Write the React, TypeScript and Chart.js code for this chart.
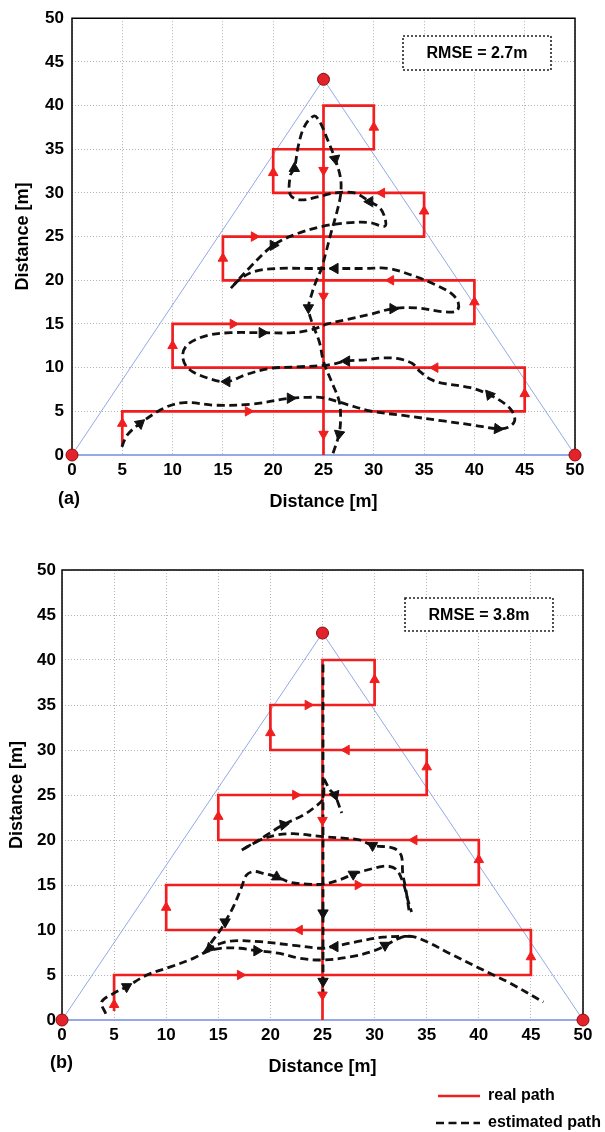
import React, { useEffect, useRef } from 'react';
import { Chart, registerables } from 'chart.js';

Chart.register(...registerables);

// ---------- data ----------
const AXIS_MIN = 0;
const AXIS_MAX = 50;
const TICK_STEP = 5;

const anchorX = [0, 25, 50];
const anchorY = [0, 43, 0];
const boundaryX = [0, 25, 50, 0];
const boundaryY = [0, 43, 0, 0];

const realPathX = [5, 5, 45, 45, 10, 10, 40, 40, 15, 15, 35, 35, 20, 20, 30, 30, 25, 25];
const realPathY = [1, 5, 5, 10, 10, 15, 15, 20, 20, 25, 25, 30, 30, 35, 35, 40, 40, 0];

// [x, y, direction in degrees clockwise from up]
const realArrowsA = [
  [5, 3.6, 0], [17.5, 5, 90], [45, 7, 0], [36.1, 10, 270], [10, 12.5, 0], [16, 15, 90],
  [40, 17.5, 0], [31.7, 20, 270], [15, 22.5, 0], [18.1, 25, 90], [35, 27.9, 0], [30.8, 30, 270],
  [20, 32.3, 0], [30, 37.5, 0], [25, 32.6, 180], [25, 18.2, 180], [25, 2.4, 180],
];
const realArrowsB = [
  [5, 1.7, 0], [17.1, 5, 90], [45, 7, 0], [22.8, 10, 270], [10, 12.5, 0], [28.4, 15, 90],
  [40, 17.8, 0], [33.8, 20, 270], [15, 22.6, 0], [22.4, 25, 90], [35, 28.1, 0], [27.3, 30, 270],
  [20, 31.9, 0], [23.6, 35, 90], [30, 37.8, 0], [25, 22.2, 180], [25, 2.8, 180],
];

// estimated path (a)
const estA1 = [
  [4.95, 0.93], [5.5, 2.3], [6.76, 3.6], [9.2, 5.4], [11.2, 6.0], [14.25, 5.7], [17.7, 5.8],
  [21.7, 6.5], [23.5, 6.6], [25, 6.55], [27.3, 5.8], [29.6, 5.05], [33.1, 4.5], [36.9, 3.9],
  [40, 3.4], [42.3, 3.0], [43.4, 3.2], [44, 3.9], [43.8, 4.9], [43.1, 5.8], [41.5, 6.9],
  [39.6, 7.7], [36.9, 8.2], [35.75, 8.6], [34.6, 9.55], [33.8, 10.5], [32.3, 11.05],
  [30.8, 11.1], [29.2, 10.9], [27.3, 10.75], [25.4, 10.3], [22.7, 10.1], [19.6, 9.9],
  [17.3, 9.2], [15.4, 8.4], [13.5, 8.8], [11.55, 9.9], [11, 11.4], [11.55, 12.7], [13.5, 13.7],
  [15.8, 14.0], [18.9, 14.0], [21.9, 14.0], [23.85, 14.35], [25.4, 15.0], [27.3, 15.5],
  [29.6, 16.1], [31.9, 16.75], [34.2, 16.85], [36.9, 16.4], [38.25, 16.5], [38.4, 17.4],
  [37.7, 18.5], [36.1, 19.5], [34.2, 20.4], [31.5, 21.35], [29.2, 21.35], [26.15, 21.35],
  [23.5, 21.35], [20.4, 21.35], [18.1, 21.0], [16.55, 20.0], [15.8, 19.1],
];
const estA2 = [
  [15.8, 19.1], [17.7, 21.5], [20, 24.0], [22.3, 25.3], [25, 26.2], [27.7, 26.6], [29.6, 26.6],
  [31.1, 26.2], [31.1, 27.15], [30.6, 28.3], [29.6, 29.0], [28.1, 30.0], [26.15, 30.0],
  [24.6, 29.6], [22.7, 29.2], [21.7, 29.8], [21.7, 32.0], [22.1, 32.8], [22.5, 35.4],
  [23.1, 37.6], [24.05, 38.8], [24.6, 38.2], [25.4, 36.1], [26.15, 33.9], [26.7, 31.65],
  [26.7, 29.8], [26.35, 27.9], [25.8, 25.65], [25.2, 23.0], [24.8, 21.35], [24.2, 19.7],
  [23.85, 18.5], [23.5, 16.85], [23.85, 15.2], [24.6, 12.9], [25, 10.7], [25.8, 8.4],
  [26.55, 6.2], [26.7, 4.3], [26.55, 2.4], [25.95, 0.2],
];
const estArrowsA = [
  [6.76, 3.6, 50], [21.7, 6.5, 90], [42.3, 3.0, 95], [41.5, 6.9, 200], [27.3, 10.75, 270],
  [15.4, 8.4, 270], [18.9, 14.0, 90], [31.9, 16.75, 90], [26.15, 21.35, 270], [20, 24.0, 210],
  [29.6, 29.0, 150], [22.1, 32.8, 0], [26.15, 33.9, 170], [23.5, 16.85, 180], [26.55, 2.4, 190],
];

// estimated path (b)
const estB1 = [
  [4.2, 0.7], [3.8, 2.0], [4.95, 2.96], [6.2, 3.7], [8.15, 5.0], [10.4, 5.9], [12.6, 6.85],
  [13.9, 7.6], [15.2, 7.97], [17.1, 7.97], [18.7, 7.7], [20.9, 7.4], [22.85, 6.85], [24.9, 6.67],
  [27.6, 7.0], [30.2, 7.8], [32.4, 9.1], [33.55, 9.3], [35, 8.7], [37.2, 7.4], [39.8, 5.9],
  [41.4, 5.0], [43, 4.1], [46.2, 2.0],
];
const estB2 = [
  [33.55, 9.3], [30.8, 9.2], [28.3, 8.7], [26.0, 8.15], [24.9, 7.97], [22.2, 8.3], [19, 8.7],
  [16.45, 8.8], [15.2, 8.5], [14.2, 7.97], [13.6, 7.4],
];
const estB3 = [
  [13.6, 7.4], [14.5, 8.9], [15.2, 10], [15.65, 10.9], [16.45, 12.6], [17.25, 14.8], [17.7, 16.1],
  [18.4, 16.5], [19.3, 16.3], [20.6, 15.9], [21.9, 15.3], [23.5, 15.1], [25.1, 15.1], [26.7, 15.6],
  [27.95, 16.2], [29.9, 16.85], [31.2, 17.1], [32.1, 16.7], [32.75, 15.2], [33.2, 13.3], [33.55, 12.0],
];
const estB4 = [
  [33.3, 12.2], [33.0, 14.5], [32.7, 16.3], [32.55, 18.3], [31.8, 19.1], [29.8, 19.4], [28.6, 20.0],
  [27.0, 20.2], [24.8, 20.4], [22.2, 20.7], [20.6, 20.55], [19, 20], [17.25, 18.9],
];
const estB5 = [
  [17.25, 18.9], [18.5, 19.7], [19.65, 20.55], [21.25, 21.7], [23.2, 22.8], [24.3, 23.7],
  [25.05, 24.6], [25.1, 26.7],
];
const estB6 = [[25.05, 39.5], [25.05, 2.2]];
const estB7 = [[25.15, 26.8], [25.7, 25.6], [26.2, 25.0], [26.5, 24.1], [26.85, 23.0]];
const estArrowsB = [
  [6.2, 3.7, 60], [18.7, 7.7, 90], [31, 8.3, 180], [26.2, 8.15, 270], [14.2, 8.0, 225],
  [15.65, 10.9, 300], [20.6, 15.9, 0], [27.95, 16.2, 180], [29.8, 19.4, 180], [21.25, 21.7, 200],
  [26.2, 25.0, 160], [25.05, 11.9, 180], [25.05, 4.3, 180],
];

const panelTags = ['(a)', '(b)'];
const rmseLabels = ['RMSE = 2.7m', 'RMSE = 3.8m'];
const axisTitle = 'Distance [m]';
const legendLabels = ['real path', 'estimated path'];

// ---------- styles / layout ----------
const FONT = '"Liberation Sans", Arial, Helvetica, sans-serif';
const RED = '#f01e1e';
const BLACK = '#111111';
const BLUE = '#94a9e6';

type Layout = {
  top: number; height: number; l: number; r: number; t: number; b: number;
  yTickPad: number; yTitlePad: number; xTickPad: number; xTitlePad: number;
  tagX: number; tagY: number; box: [number, number, number, number]; legend: boolean;
};

const layoutA: Layout = {
  top: 0, height: 530, l: 72, r: 575, t: 10, b: 455,
  yTickPad: 8, yTitlePad: 12, xTickPad: 5, xTitlePad: 2,
  tagX: 58, tagY: 499, box: [403, 36, 148, 34], legend: false,
};
const layoutB: Layout = {
  top: 540, height: 592, l: 62, r: 583, t: 30, b: 480,
  yTickPad: 6, yTitlePad: 6, xTickPad: 5, xTitlePad: 2.5,
  tagX: 50, tagY: 523, box: [405, 58, 148, 33], legend: true,
};

const toPts = (xs: number[], ys: number[]) => xs.map((x, i) => ({ x, y: ys[i] }));
const pairPts = (arr: number[][]) => arr.map(([x, y]) => ({ x, y }));

function Panel({ lay, tag, rmse, realArrows, estSegments, estArrows }: any) {
  const ref = useRef<HTMLCanvasElement>(null);
  useEffect(() => {
    const lineBase = { showLine: true, pointRadius: 0, pointHoverRadius: 0, pointHitRadius: 0 };
    const datasets: any[] = [
      { ...lineBase, data: toPts(boundaryX, boundaryY), borderColor: BLUE, borderWidth: 1, order: 6 },
      { ...lineBase, data: toPts(realPathX, realPathY), borderColor: RED, borderWidth: 2.7, order: 5 },
      ...estSegments.map((seg: number[][]) => ({
        ...lineBase, data: pairPts(seg), borderColor: BLACK, borderWidth: 2.8,
        borderDash: [8, 4.5], tension: 0.35, order: 4,
      })),
      {
        data: realArrows.map(([x, y]: number[]) => ({ x, y })), showLine: false,
        pointStyle: 'triangle', pointRadius: 5.5, pointHoverRadius: 5.5,
        pointRotation: realArrows.map((a: number[]) => a[2]),
        backgroundColor: RED, borderColor: RED, borderWidth: 1, order: 3,
      },
      {
        data: estArrows.map(([x, y]: number[]) => ({ x, y })), showLine: false,
        pointStyle: 'triangle', pointRadius: 6, pointHoverRadius: 6,
        pointRotation: estArrows.map((a: number[]) => a[2]),
        backgroundColor: BLACK, borderColor: BLACK, borderWidth: 1, order: 2,
      },
      {
        data: toPts(anchorX, anchorY), showLine: false, pointRadius: 6, pointHoverRadius: 6,
        backgroundColor: '#e3222a', borderColor: '#8a0d10', borderWidth: 1, clip: false, order: 1,
      },
    ];

    const decor = {
      id: 'decor',
      beforeDatasetsDraw(chart: any) {
        const { ctx, chartArea: a } = chart;
        ctx.save();
        ctx.setLineDash([]);
        ctx.strokeStyle = '#000';
        ctx.lineWidth = 1.5;
        ctx.beginPath();
        ctx.moveTo(a.left, a.bottom);
        ctx.lineTo(a.left, a.top);
        ctx.lineTo(a.right, a.top);
        ctx.lineTo(a.right, a.bottom);
        ctx.stroke();
        ctx.strokeStyle = BLUE;
        ctx.lineWidth = 2;
        ctx.beginPath();
        ctx.moveTo(a.left, a.bottom);
        ctx.lineTo(a.right, a.bottom);
        ctx.stroke();
        ctx.restore();
      },
      afterDraw(chart: any) {
        const { ctx } = chart;
        ctx.save();
        // RMSE box
        const [bx, by, bw, bh] = lay.box;
        ctx.fillStyle = '#fff';
        ctx.fillRect(bx, by, bw, bh);
        ctx.setLineDash([2, 2]);
        ctx.strokeStyle = '#222';
        ctx.lineWidth = 1.6;
        ctx.strokeRect(bx, by, bw, bh);
        ctx.setLineDash([]);
        ctx.fillStyle = '#000';
        ctx.font = `bold 16px ${FONT}`;
        ctx.textAlign = 'center';
        ctx.textBaseline = 'middle';
        ctx.fillText(rmse, bx + bw / 2, by + bh / 2 + 1);
        // panel tag
        ctx.font = `bold 18px ${FONT}`;
        ctx.textAlign = 'left';
        ctx.fillText(tag, lay.tagX, lay.tagY);
        // legend
        if (lay.legend) {
          const rows = [
            { y: 556, color: RED, dash: [] as number[], x0: 438, label: legendLabels[0] },
            { y: 583, color: BLACK, dash: [8, 4.5], x0: 436, label: legendLabels[1] },
          ];
          rows.forEach((row) => {
            ctx.strokeStyle = row.color;
            ctx.lineWidth = 2.7;
            ctx.setLineDash(row.dash);
            ctx.beginPath();
            ctx.moveTo(row.x0, row.y);
            ctx.lineTo(480, row.y);
            ctx.stroke();
            ctx.setLineDash([]);
            ctx.fillStyle = '#000';
            ctx.font = `bold 16px ${FONT}`;
            ctx.textAlign = 'left';
            ctx.textBaseline = 'middle';
            ctx.fillText(row.label, 488, row.y);
          });
        }
        ctx.restore();
      },
    };

    const tickFont = { family: FONT, size: 17, weight: 'bold' as const };
    const titleFont = { family: FONT, size: 18, weight: 'bold' as const };
    const gridCfg = { color: '#b4b4b4', lineWidth: 1, drawTicks: false };

    const chart = new Chart(ref.current!, {
      type: 'scatter',
      data: { datasets },
      plugins: [decor],
      options: {
        responsive: false,
        animation: false,
        events: [],
        devicePixelRatio: 1,
        layout: { padding: { left: 0, right: 605 - lay.r, top: lay.t, bottom: lay.height - lay.b - 60 } },
        plugins: { legend: { display: false }, tooltip: { enabled: false } },
        scales: {
          x: {
            type: 'linear', min: AXIS_MIN, max: AXIS_MAX,
            ticks: { stepSize: TICK_STEP, color: '#000', font: tickFont, padding: lay.xTickPad, maxRotation: 0 },
            grid: gridCfg,
            border: { display: false, dash: [1, 2] },
            title: { display: true, text: axisTitle, color: '#000', font: titleFont, padding: { top: 0, bottom: lay.xTitlePad } },
            afterFit: (s: any) => { s.height = 60; },
          },
          y: {
            type: 'linear', min: AXIS_MIN, max: AXIS_MAX,
            ticks: { stepSize: TICK_STEP, color: '#000', font: tickFont, padding: lay.yTickPad },
            grid: gridCfg,
            border: { display: false, dash: [1, 2] },
            title: { display: true, text: axisTitle, color: '#000', font: titleFont, padding: { top: lay.yTitlePad, bottom: 0 } },
            afterFit: (s: any) => { s.width = lay.l; },
          },
        },
      } as any,
    });
    return () => chart.destroy();
  }, []);
  return (
    <canvas
      ref={ref}
      width={605}
      height={lay.height}
      style={{ position: 'absolute', left: 0, top: lay.top, width: 605, height: lay.height }}
    />
  );
}

export default function App() {
  return (
    <div style={{ position: 'absolute', left: 0, top: 0, width: 605, height: 1132, background: '#fff' }}>
      <Panel lay={layoutA} tag={panelTags[0]} rmse={rmseLabels[0]} realArrows={realArrowsA}
        estSegments={[estA1, estA2]} estArrows={estArrowsA} />
      <Panel lay={layoutB} tag={panelTags[1]} rmse={rmseLabels[1]} realArrows={realArrowsB}
        estSegments={[estB1, estB2, estB3, estB4, estB5, estB6, estB7]} estArrows={estArrowsB} />
    </div>
  );
}
